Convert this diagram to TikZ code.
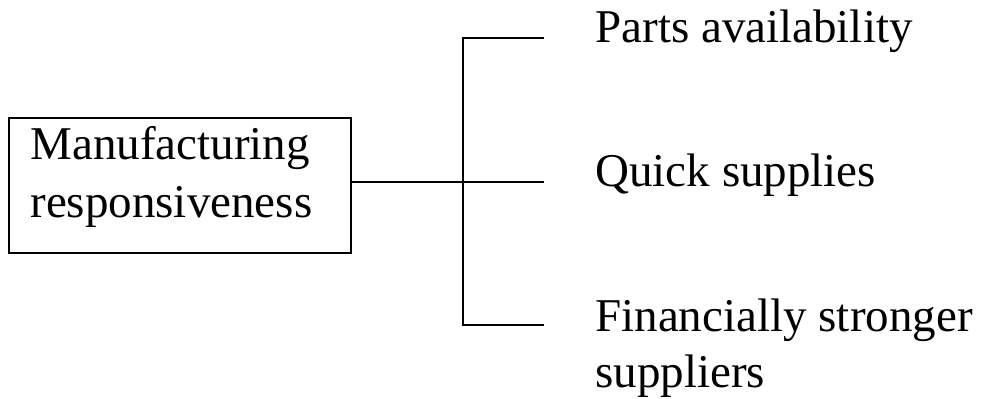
\documentclass[tikz,border=0pt]{standalone}
\usepackage{fontspec}
\setmainfont{Liberation Serif}
\begin{document}
\begin{tikzpicture}[x=0.5pt,y=-0.5pt,
  lbl/.style={anchor=base west,inner sep=0pt,align=left,font=\fontsize{23.5}{28}\selectfont},
  conn/.style={line width=1.1pt,line cap=rect},
  framebox/.style={draw,line width=1.25pt,inner sep=0pt,minimum width=171pt,minimum height=67.5pt}]
\useasboundingbox (0,0) rectangle (988,399);
% box
\node[framebox] (box) at (180,185.5) {};
\node[lbl,font=\fontsize{23.5}{29}\selectfont] (boxtext) at (30,218) {Manufacturing\\responsiveness};
% connector points
\coordinate (jt) at (463,38);
\coordinate (jm) at (463,182);
\coordinate (jb) at (463,325);
\coordinate (e1) at (543,38);
\coordinate (e2) at (543,182);
\coordinate (e3) at (543,325);
\draw[conn] (box.east |- jm) -- (e2);
\draw[conn] (e1) -- (jt) -- (jb) -- (e3);
% labels
\node[lbl] (t1) at (595,43) {Parts availability};
\node[lbl] (t2) at (595,187) {Quick supplies};
\node[lbl] (t3) at (595,388) {Financially stronger\\suppliers};
\end{tikzpicture}
\end{document}
